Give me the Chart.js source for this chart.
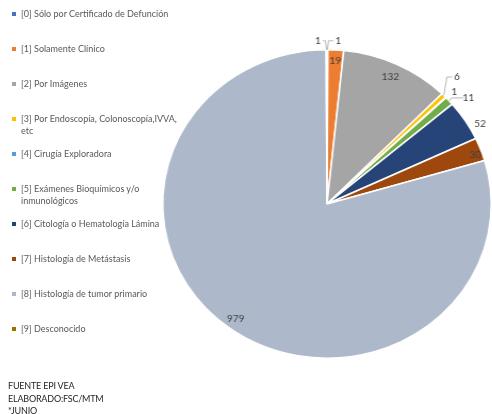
<!DOCTYPE html>
<html>
<head>
<meta charset="utf-8">
<script src="https://cdn.jsdelivr.net/npm/chart.js@4.4.0/dist/chart.umd.min.js"></script>
<style>
body{margin:0;background:#fff;font-family:Lato,sans-serif;}
#wrap{position:relative;width:492px;height:414px;overflow:hidden;}
#grafico{position:absolute;left:0;top:0;transform:scaleX(1.065);transform-origin:327px 0;}
#leyenda{position:absolute;left:12px;top:0;width:170px;}
.item{position:absolute;left:0;width:170px;padding-left:9px;box-sizing:border-box;font-size:9px;line-height:11.5px;color:#595959;}
.item span{position:absolute;left:0;top:4px;width:4px;height:4px;}
#fuente{position:absolute;left:8px;top:380px;font-size:9px;letter-spacing:-0.2px;line-height:12.5px;color:#262626;}
</style>
</head>
<body>
<div id="wrap">
  <canvas id="grafico" width="492" height="414"></canvas>
  <div id="leyenda"></div>
  <div id="fuente">FUENTE EPI VEA<br>ELABORADO:FSC/MTM<br>*JUNIO</div>
</div>
<script>
const categorias = [
  "[0] Sólo por Certificado de Defunción",
  "[1] Solamente Clínico",
  "[2] Por Imágenes",
  "[3] Por Endoscopía, Colonoscopía,IVVA, etc",
  "[4] Cirugía Exploradora",
  "[5] Exámenes Bioquímicos y/o inmunológicos",
  "[6] Citología o Hematología Lámina",
  "[7] Histología de Metástasis",
  "[8] Histología de tumor primario",
  "[9] Desconocido"
];
const valores = [1, 19, 132, 6, 1, 11, 52, 30, 979, 1];
const colores = ["#4472C4", "#ED7D31", "#A5A5A5", "#FFC000", "#5B9BD5",
                 "#70AD47", "#264478", "#9E480E", "#ADB9CA", "#997300"];

// leyenda a la izquierda
const ley = document.getElementById('leyenda');
categorias.forEach((c, i) => {
  const d = document.createElement('div');
  d.className = 'item';
  d.style.top = (8 + i * 35) + 'px';
  d.innerHTML = '<span style="background:' + colores[i] + '"></span>' + c;
  ley.appendChild(d);
});

// donde va cada etiqueta: r = dentro del sector, out = fuera con desplazamiento
const colocacion = [
  {out: [10, -9], guia: true},
  {r: 0.93},
  {r: 0.91},
  {out: [12.5, -18.5], guia: true, gx: 3},
  {out: [8, -5.5]},
  {out: [18, -3], guia: true, gx: 2},
  {out: [14, 3]},
  {out: [-5, 5.5]},
  {r: 0.93},
  {out: [-8, -9], guia: true}
];

const etiquetas = {
  id: 'etiquetas',
  afterDatasetsDraw(chart) {
    const ctx = chart.ctx;
    const meta = chart.getDatasetMeta(0);
    ctx.save();
    ctx.font = '9.5px Lato';
    ctx.textAlign = 'center';
    ctx.textBaseline = 'middle';
    meta.data.forEach((arc, i) => {
      const p = arc.getProps(['x', 'y', 'startAngle', 'endAngle', 'outerRadius']);
      const mid = (p.startAngle + p.endAngle) / 2;
      const c = colocacion[i];
      const ex = p.x + Math.cos(mid) * p.outerRadius;
      const ey = p.y + Math.sin(mid) * p.outerRadius;
      let lx, ly;
      if (c.out) {
        lx = ex + c.out[0];
        ly = ey + c.out[1];
      } else {
        lx = p.x + Math.cos(mid) * p.outerRadius * c.r;
        ly = p.y + Math.sin(mid) * p.outerRadius * c.r;
      }
      if (c.guia) {
        const s = lx > ex ? 1 : -1;
        const gx = (c.gx || 1) * s;
        ctx.strokeStyle = '#A6A6A6';
        ctx.lineWidth = 0.8;
        ctx.beginPath();
        ctx.moveTo(ex, ey);
        ctx.lineTo(ex + gx, ly);
        ctx.lineTo(lx - s * 4.5, ly);
        ctx.stroke();
      }
      ctx.fillStyle = '#404040';
      ctx.fillText(valores[i], lx, ly);
    });
    ctx.restore();
  }
};

new Chart(document.getElementById('grafico'), {
  type: 'pie',
  data: {
    labels: categorias,
    datasets: [{
      data: valores,
      backgroundColor: colores,
      borderColor: '#ffffff',
      borderWidth: 1.5
    }]
  },
  options: {
    responsive: false,
    animation: false,
    layout: {padding: {left: 172, right: 10, top: 49, bottom: 55}},
    plugins: {
      legend: {display: false},
      tooltip: {enabled: false}
    }
  },
  plugins: [etiquetas]
});
</script>
</body>
</html>
